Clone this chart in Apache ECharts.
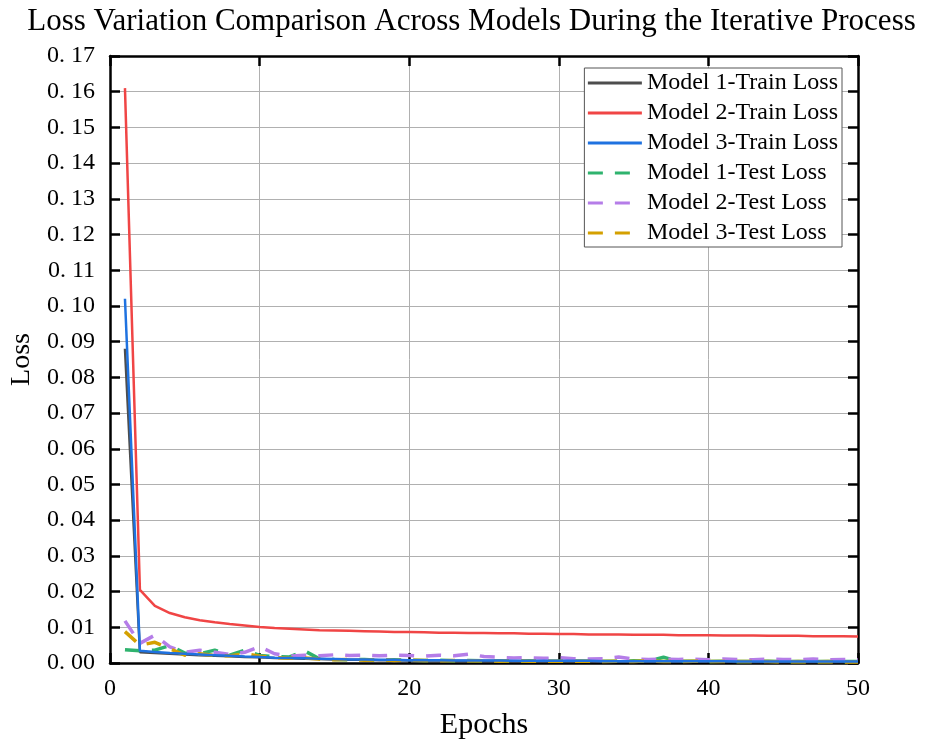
<!DOCTYPE html>
<html>
<head>
    <meta charset="utf-8">
    <title>Loss Variation</title>
    <script src="https://cdn.jsdelivr.net/npm/echarts@6/dist/echarts.min.js"></script>
    <style>
        html, body { margin: 0; padding: 0; background: #fff; }
    </style>
</head>
<body>
    <div id="main" style="width: 943px;height:751px;"></div>

    <script type="text/javascript">
        // epochs 1..50
        var epochs = [];
        for (var e = 1; e <= 50; e++) epochs.push(e);

        var yTicks = [0, 0.01, 0.02, 0.03, 0.04, 0.05, 0.06, 0.07, 0.08, 0.09, 0.10, 0.11, 0.12, 0.13, 0.14, 0.15, 0.16, 0.17];
        var xTicks = [0, 10, 20, 30, 40, 50];

        var m1Train = [0.0880, 0.0030, 0.0028, 0.0026, 0.0024, 0.0022, 0.0020, 0.0019, 0.0017, 0.0016,
                       0.0014, 0.0013, 0.0012, 0.0011, 0.0010, 0.0009, 0.0009, 0.0008, 0.0008, 0.0007,
                       0.0007, 0.0007, 0.0006, 0.0006, 0.0006, 0.0006, 0.0005, 0.0005, 0.0005, 0.0005,
                       0.0005, 0.0005, 0.0004, 0.0004, 0.0004, 0.0004, 0.0004, 0.0004, 0.0004, 0.0004,
                       0.0004, 0.0003, 0.0003, 0.0003, 0.0003, 0.0003, 0.0003, 0.0003, 0.0003, 0.0003];
        var m2Train = [0.1610, 0.0205, 0.0160, 0.0140, 0.0128, 0.0120, 0.0114, 0.0109, 0.0105, 0.0101,
                       0.0098, 0.0096, 0.0094, 0.0092, 0.0091, 0.0090, 0.0089, 0.0088, 0.0087, 0.0087,
                       0.0086, 0.0085, 0.0085, 0.0084, 0.0084, 0.0083, 0.0083, 0.0082, 0.0082, 0.0081,
                       0.0081, 0.0080, 0.0080, 0.0080, 0.0079, 0.0079, 0.0079, 0.0078, 0.0078, 0.0078,
                       0.0077, 0.0077, 0.0077, 0.0076, 0.0076, 0.0076, 0.0075, 0.0075, 0.0075, 0.0074];
        var m3Train = [0.1020, 0.0034, 0.0031, 0.0028, 0.0026, 0.0024, 0.0022, 0.0020, 0.0018, 0.0017,
                       0.0015, 0.0014, 0.0013, 0.0012, 0.0011, 0.0010, 0.0010, 0.0009, 0.0009, 0.0008,
                       0.0008, 0.0008, 0.0007, 0.0007, 0.0007, 0.0007, 0.0006, 0.0006, 0.0006, 0.0006,
                       0.0006, 0.0006, 0.0005, 0.0005, 0.0005, 0.0005, 0.0005, 0.0005, 0.0005, 0.0005,
                       0.0005, 0.0004, 0.0004, 0.0004, 0.0004, 0.0004, 0.0004, 0.0004, 0.0004, 0.0004];
        var m1Test = [0.0037, 0.0034, 0.0036, 0.0049, 0.0028, 0.0026, 0.0036, 0.0022, 0.0036, 0.0021,
                      0.0018, 0.0017, 0.0034, 0.0012, 0.0010, 0.0009, 0.0010, 0.0008, 0.0009, 0.0008,
                      0.0007, 0.0008, 0.0006, 0.0007, 0.0006, 0.0006, 0.0005, 0.0006, 0.0005, 0.0005,
                      0.0006, 0.0005, 0.0005, 0.0005, 0.0006, 0.0005, 0.0016, 0.0005, 0.0005, 0.0004,
                      0.0005, 0.0004, 0.0004, 0.0005, 0.0004, 0.0004, 0.0004, 0.0004, 0.0004, 0.0004];
        var m2Test = [0.0118, 0.0055, 0.0078, 0.0045, 0.0030, 0.0036, 0.0030, 0.0024, 0.0030, 0.0046,
                      0.0026, 0.0019, 0.0022, 0.0020, 0.0023, 0.0021, 0.0022, 0.0020, 0.0022, 0.0021,
                      0.0019, 0.0022, 0.0020, 0.0025, 0.0018, 0.0016, 0.0014, 0.0015, 0.0013, 0.0015,
                      0.0012, 0.0011, 0.0012, 0.0017, 0.0011, 0.0010, 0.0011, 0.0010, 0.0011, 0.0009,
                      0.0011, 0.0010, 0.0009, 0.0011, 0.0010, 0.0009, 0.0011, 0.0009, 0.0010, 0.0009];
        var m3Test = [0.0088, 0.0050, 0.0058, 0.0040, 0.0022, 0.0026, 0.0021, 0.0020, 0.0026, 0.0019,
                      0.0015, 0.0013, 0.0014, 0.0011, 0.0009, 0.0010, 0.0008, 0.0009, 0.0007, 0.0008,
                      0.0007, 0.0006, 0.0007, 0.0006, 0.0006, 0.0005, 0.0006, 0.0005, 0.0005, 0.0005,
                      0.0005, 0.0005, 0.0004, 0.0005, 0.0004, 0.0006, 0.0004, 0.0004, 0.0005, 0.0004,
                      0.0004, 0.0004, 0.0004, 0.0004, 0.0003, 0.0004, 0.0003, 0.0004, 0.0003, 0.0003];

        var seriesNames = ['Model 1-Train Loss', 'Model 2-Train Loss', 'Model 3-Train Loss',
                           'Model 1-Test Loss', 'Model 2-Test Loss', 'Model 3-Test Loss'];
        var seriesData = [m1Train, m2Train, m3Train, m1Test, m2Test, m3Test];
        var colors = ['#4d4d4d', '#f04545', '#1f72e0', '#2fb36e', '#b57de8', '#d4a000'];

        function pairs(vals) {
            return vals.map(function (v, i) { return [epochs[i], v]; });
        }

        var font = '"Times New Roman", "Liberation Serif", serif';

        var series = [];
        for (var k = 0; k < seriesNames.length; k++) {
            var isTest = k >= 3;
            series.push({
                name: seriesNames[k],
                type: 'line',
                symbol: 'none',
                data: pairs(seriesData[k]),
                z: isTest ? 3 : 2,
                lineStyle: {
                    color: colors[k],
                    width: isTest ? 3.5 : 2.5,
                    type: isTest ? [15, 12] : 'solid'
                },
                itemStyle: { color: colors[k] }
            });
        }
        // blue train line sits over the test lines
        series[2].z = 4;

        var myChart = echarts.init(document.getElementById('main'));

        var option = {
            animation: false,
            backgroundColor: '#fff',
            textStyle: { fontFamily: font },
            title: {
                text: 'Loss Variation Comparison Across Models During the Iterative Process',
                left: 'center',
                top: 1,
                textStyle: { fontFamily: font, fontSize: 31, fontWeight: 'normal', color: '#000' }
            },
            legend: {
                orient: 'vertical',
                right: 101,
                top: 68,
                data: seriesNames,
                itemWidth: 54,
                itemHeight: 14,
                itemGap: 6,
                padding: [3, 4, 2, 2],
                backgroundColor: '#fff',
                borderColor: '#555',
                borderWidth: 1,
                borderRadius: 0,
                itemStyle: { opacity: 0 },
                lineStyle: { width: 3 },
                textStyle: { fontFamily: font, fontSize: 24, color: '#000' }
            },
            grid: {
                left: 107,
                right: 85,
                top: 56,
                bottom: 88,
                containLabel: false
            },
            xAxis: [{
                type: 'value',
                min: xTicks[0],
                max: xTicks[xTicks.length - 1],
                interval: 10,
                name: 'Epochs',
                nameLocation: 'middle',
                nameGap: 47,
                nameTextStyle: { fontFamily: font, fontSize: 30, color: '#000' },
                axisLine: { show: true, onZero: false, lineStyle: { color: '#000', width: 2.5 } },
                axisTick: { show: true, inside: true, length: 10, lineStyle: { color: '#000', width: 2.5 } },
                axisLabel: { fontFamily: font, fontSize: 24, color: '#000', margin: 14 },
                splitLine: { show: true, lineStyle: { color: '#b0b0b0', width: 1 } }
            }, {
                type: 'value',
                position: 'top',
                min: xTicks[0],
                max: xTicks[xTicks.length - 1],
                interval: 10,
                axisLine: { show: true, onZero: false, lineStyle: { color: '#000', width: 2.5 } },
                axisTick: { show: true, inside: true, length: 10, lineStyle: { color: '#000', width: 2.5 } },
                axisLabel: { show: false },
                splitLine: { show: false }
            }],
            yAxis: [{
                type: 'value',
                min: yTicks[0],
                max: yTicks[yTicks.length - 1],
                interval: 0.01,
                name: 'Loss',
                nameLocation: 'middle',
                nameGap: 74,
                nameRotate: 90,
                nameTextStyle: { fontFamily: font, fontSize: 28, color: '#000' },
                axisLine: { show: true, onZero: false, lineStyle: { color: '#000', width: 2.5 } },
                axisTick: { show: true, inside: true, length: 10, lineStyle: { color: '#000', width: 2.5 } },
                axisLabel: {
                    fontFamily: font, fontSize: 24, color: '#000', margin: 15,
                    formatter: function (v) { return v.toFixed(2).replace('.', '. '); }
                },
                splitLine: { show: true, lineStyle: { color: '#b0b0b0', width: 1 } }
            }, {
                type: 'value',
                position: 'right',
                min: yTicks[0],
                max: yTicks[yTicks.length - 1],
                interval: 0.01,
                axisLine: { show: true, onZero: false, lineStyle: { color: '#000', width: 2.5 } },
                axisTick: { show: true, inside: true, length: 10, lineStyle: { color: '#000', width: 2.5 } },
                axisLabel: { show: false },
                splitLine: { show: false }
            }],
            series: series
        };

        myChart.setOption(option);
    </script>
</body>
</html>
